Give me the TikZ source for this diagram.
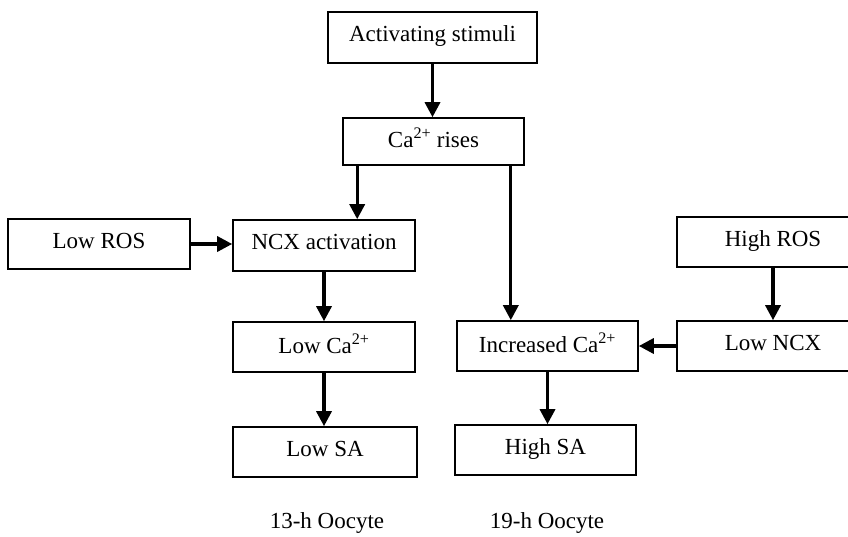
\documentclass[tikz,border=0pt]{standalone}
\usepackage{fontspec}
\setmainfont{Liberation Serif}
\usetikzlibrary{arrows.meta}
\tikzset{
  box/.style={draw, line width=1.6pt, rectangle, inner sep=0pt, minimum height=50pt,
    font=\fontsize{23}{27}\selectfont, text depth=7pt},
  arr/.style={line width=3.3pt, -{Triangle[width=15pt,length=15pt]}},
  lbl/.style={font=\fontsize{23}{27}\selectfont}
}
\begin{document}
\begin{tikzpicture}[x=1pt,y=1pt]
\useasboundingbox (0,0) rectangle (848,-536);
\clip (0,0) rectangle (848,-536);
\node[box, minimum width=209pt, minimum height=51pt] (act) at (432.5,-37.5) {Activating stimuli};
\node[box, minimum width=181pt, minimum height=47pt] (rises) at (433.5,-141.5) {Ca\textsuperscript{2+} rises};
\node[box, minimum width=182pt] (lowros) at (99,-244) {Low ROS};
\node[box, minimum width=182pt, minimum height=51pt] (ncx) at (324,-245.5) {NCX activation};
\node[box, minimum width=182pt] (lowca) at (324,-347) {Low Ca\textsuperscript{2+}};
\node[box, minimum width=184pt] (lowsa) at (325,-452) {Low SA};
\node[box, minimum width=181pt] (inc) at (547.5,-346) {Increased Ca\textsuperscript{2+}};
\node[box, minimum width=181pt] (highsa) at (545.5,-450) {High SA};
\node[box, minimum width=192pt] (highros) at (773,-242) {High ROS};
\node[box, minimum width=192pt] (lowncx) at (773,-346) {Low NCX};
\node[lbl] (l13) at (327,-523) {13-h Oocyte};
\node[lbl] (l19) at (547,-523) {19-h Oocyte};
\draw[arr] (act.south) -- (act.south |- rises.north);
\draw[arr] ([xshift=15pt]rises.south west) -- ([xshift=15pt]rises.south west |- ncx.north);
\draw[arr] ([xshift=-14pt]rises.south east) -- ([xshift=-14pt]rises.south east |- inc.north);
\draw[arr] (lowros.east) -- (lowros.east -| ncx.west);
\draw[arr] (ncx.south) -- (lowca.north);
\draw[arr] (lowca.south) -- (lowca.south |- lowsa.north);
\draw[arr] (highros.south) -- (lowncx.north);
\draw[arr] (lowncx.west) -- (lowncx.west -| inc.east);
\draw[arr] (inc.south) -- (inc.south |- highsa.north);
\end{tikzpicture}
\end{document}
